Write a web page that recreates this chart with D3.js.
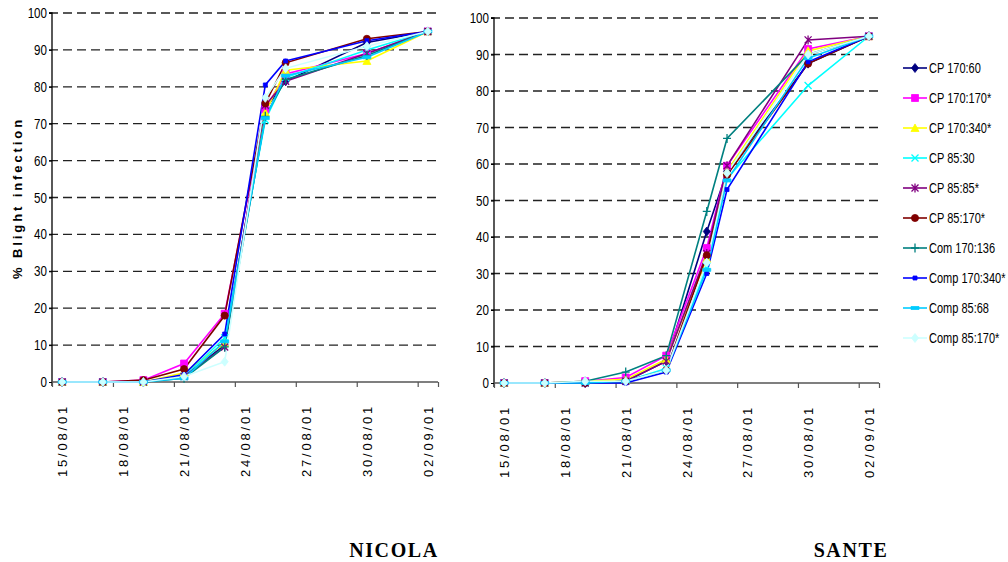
<!DOCTYPE html>
<html>
<head>
<meta charset="utf-8">
<script src="https://cdn.jsdelivr.net/npm/d3@7"></script>
<style>
  html, body { margin: 0; padding: 0; background: #fff; }
  svg { display: block; }
  .num { font-family: "Liberation Sans", Arial, sans-serif; }
</style>
</head>
<body>
<svg id="chart" width="1008" height="562"></svg>
<script>
// Sampling dates (2001)
const sampleDates = ["2001-08-15", "2001-08-17", "2001-08-19", "2001-08-21", "2001-08-23",
                     "2001-08-25", "2001-08-26", "2001-08-30", "2001-09-02"];

// Treatments
const treatments = ["CP 170:60", "CP 170:170*", "CP 170:340*", "CP 85:30", "CP 85:85*",
                    "CP 85:170*", "Com 170:136", "Comp 170:340*", "Comp 85:68", "Comp 85:170*"];

// % blight infection, variety Nicola (one row per treatment)
const nicolaValues = [
  [0, 0, 0,   1.5, 10,   74,   81.5, 92,   95],
  [0, 0, 0.5, 5,   18.5, 74,   83.5, 89,   95],
  [0, 0, 0,   2.5, 10.5, 73,   84.5, 87,   95],
  [0, 0, 0,   1.5, 12,   71,   82.5, 90,   95],
  [0, 0, 0,   1.5, 9.5,  75,   81.5, 89,   95],
  [0, 0, 0.5, 3.5, 18,   75.5, 86.5, 93,   95],
  [0, 0, 0,   1,   9.5,  72,   82,   88.5, 95],
  [0, 0, 0,   2,   13,   80.5, 87,   92.5, 95],
  [0, 0, 0,   1,   11,   71.5, 83,   88,   95],
  [0, 0, 0,   1.5, 5.5,  77,   85,   91,   95]
];

// % blight infection, variety Sante
const santeValues = [
  [0, 0, 0,   0.5, 6,   41.5, 58,   87.5, 95],
  [0, 0, 0.5, 1.5, 7.5, 37,   59.5, 91.5, 95],
  [0, 0, 0.5, 1,   6.5, 34,   58,   91,   95],
  [0, 0, 0,   0.5, 4,   32,   56,   81.5, 95],
  [0, 0, 0,   0.5, 6,   35.5, 59.5, 94,   95],
  [0, 0, 0,   0.5, 3.5, 35,   57,   87.5, 95],
  [0, 0, 0.5, 3,   7.5, 47,   67,   90,   95],
  [0, 0, 0,   0,   3,   30,   53,   88,   95],
  [0, 0, 0,   0.5, 3.5, 31,   55.5, 89,   95],
  [0, 0, 0.5, 0.5, 3.5, 33,   57.5, 90,   95]
];

// Axis labels
const dateLabels = ["2001-08-15", "2001-08-18", "2001-08-21", "2001-08-24",
                    "2001-08-27", "2001-08-30", "2001-09-02"];
const yTicks = [0, 10, 20, 30, 40, 50, 60, 70, 80, 90, 100];
const yTitle = "% Blight infection";
const panelTitles = ["NICOLA", "SANTE"];

// Styling per treatment
const colors = ["#000080", "#FF00FF", "#FFFF00", "#00FFFF", "#800080",
                "#800000", "#008080", "#0000FF", "#00CCFF", "#CCFFFF"];
const markers = ["diamond", "square", "triangle", "x", "star",
                 "circle", "plus", "smallsquare", "dash", "diamond"];

const parse = d3.utcParse("%Y-%m-%d");
const fmt = d3.utcFormat("%d/%m/%y");
const svg = d3.select("#chart");
const NARROW = 0.8;   // horizontal squeeze for the condensed label face

function markerPath(type) {
  switch (type) {
    case "diamond":  return "M0,-4.5L3.5,0L0,4.5L-3.5,0Z";
    case "square":   return "M-3.5,-3.5H3.5V3.5H-3.5Z";
    case "triangle": return "M0,-4L4,3.5H-4Z";
    case "x":        return "M-3.5,-3.5L3.5,3.5M3.5,-3.5L-3.5,3.5";
    case "star":     return "M-3.5,-3.5L3.5,3.5M3.5,-3.5L-3.5,3.5M0,-4.5V4.5";
    case "circle":   return d3.symbol(d3.symbolCircle, 40)();
    case "plus":     return "M-4,0H4M0,-4.5V4.5";
    case "smallsquare": return "M-2,-2H2V2H-2Z";
    case "dash":     return "M-4,-1.5H4V1.5H-4Z";
  }
}
const openMarkers = new Set(["x", "star", "plus"]);

function drawMarker(g, type, color) {
  g.append("path")
    .attr("d", markerPath(type))
    .attr("fill", openMarkers.has(type) ? "none" : color)
    .attr("stroke", color)
    .attr("stroke-width", openMarkers.has(type) ? 1.3 : 0.8);
}

function panel(cfg, values, title) {
  const x = d3.scaleUtc()
    .domain([d3.utcHour.offset(parse("2001-08-15"), -12), d3.utcHour.offset(parse("2001-09-02"), 12)])
    .range([cfg.left, cfg.right]);
  const y = d3.scaleLinear().domain([0, 100]).range([cfg.bottom, cfg.top]);

  const g = svg.append("g");

  // dashed gridlines
  g.append("g").selectAll("line").data(yTicks.slice(1)).join("line")
    .attr("x1", cfg.left - 3).attr("x2", cfg.right)
    .attr("y1", d => y(d)).attr("y2", d => y(d))
    .attr("stroke", "#222").attr("stroke-width", 1.3)
    .attr("stroke-dasharray", "9,5");

  // y axis
  const ya = g.append("g").attr("transform", `translate(${cfg.left},0)`)
    .call(d3.axisLeft(y).tickValues(yTicks).tickSize(3).tickFormat(""));
  ya.select(".domain").attr("stroke", "#000").attr("stroke-width", 1.3)
    .attr("d", `M-3,${cfg.top}H0V${cfg.bottom + 4}`);
  ya.selectAll(".tick line").attr("stroke", "#000");
  g.append("g").selectAll("text").data(yTicks).join("text")
    .attr("class", "num")
    .attr("transform", d => `translate(${cfg.left - 5},${y(d) + 5}) scale(${NARROW},1)`)
    .attr("text-anchor", "end")
    .attr("font-size", 14.5).attr("fill", "#000")
    .text(d => d);

  // x axis: tick marks at period boundaries, labels centred on the dates
  const boundaries = dateLabels.map(d => d3.utcHour.offset(parse(d), -12));
  boundaries.push(d3.utcHour.offset(parse("2001-09-02"), 12));
  const xa = g.append("g").attr("transform", `translate(0,${cfg.bottom})`)
    .call(d3.axisBottom(x).tickValues(boundaries).tickSize(5).tickFormat(""));
  xa.select(".domain").attr("stroke", "#555").attr("stroke-width", 1.3)
    .attr("d", `M${cfg.left},0H${cfg.right}`);
  xa.selectAll(".tick line").attr("stroke", "#555").attr("stroke-width", 1.2);

  g.append("g").selectAll("text").data(dateLabels).join("text")
    .attr("class", "num")
    .attr("transform", d => `translate(${x(parse(d)) + 5},${cfg.bottom + 22}) rotate(-90)`)
    .attr("text-anchor", "end")
    .attr("font-size", 13)
    .attr("letter-spacing", 2.8)
    .attr("fill", "#000")
    .text(d => fmt(parse(d)));

  // series
  const line = d3.line().x((d, i) => x(parse(sampleDates[i]))).y(d => y(d));
  values.forEach((vals, s) => {
    g.append("path").datum(vals)
      .attr("d", line).attr("fill", "none")
      .attr("stroke", colors[s]).attr("stroke-width", 1.6);
  });
  values.forEach((vals, s) => {
    vals.forEach((v, i) => {
      const m = g.append("g").attr("transform", `translate(${x(parse(sampleDates[i]))},${y(v)})`);
      drawMarker(m, markers[s], colors[s]);
    });
  });

  // panel title
  svg.append("text")
    .attr("x", cfg.titleX).attr("y", 557)
    .attr("text-anchor", "middle")
    .attr("font-family", "'Liberation Serif', 'Times New Roman', serif")
    .attr("font-weight", "bold").attr("font-size", 20)
    .attr("letter-spacing", 1.6)
    .text(title);
}

panel({ left: 52, right: 438, top: 13, bottom: 382, titleX: 394 }, nicolaValues, panelTitles[0]);
panel({ left: 494, right: 879, top: 18, bottom: 383, titleX: 851 }, santeValues, panelTitles[1]);

// y axis title
svg.append("text")
  .attr("transform", "translate(22,198) rotate(-90)")
  .attr("text-anchor", "middle")
  .attr("font-family", "'Liberation Sans', Arial, sans-serif")
  .attr("font-weight", "bold").attr("font-size", 13)
  .attr("letter-spacing", 2.9)
  .text(yTitle);

// legend
const legend = svg.append("g");
treatments.forEach((name, s) => {
  const row = legend.append("g").attr("transform", `translate(903,${68 + s * 30})`);
  row.append("line").attr("x1", 0).attr("x2", 24).attr("y1", 0).attr("y2", 0)
    .attr("stroke", colors[s]).attr("stroke-width", 1.6);
  const m = row.append("g").attr("transform", "translate(12,0)");
  drawMarker(m, markers[s], colors[s]);
  row.append("text").attr("class", "num")
    .attr("transform", `translate(26,5) scale(0.76,1)`)
    .attr("font-size", 14.5).attr("fill", "#000")
    .text(name);
});
</script>
</body>
</html>
